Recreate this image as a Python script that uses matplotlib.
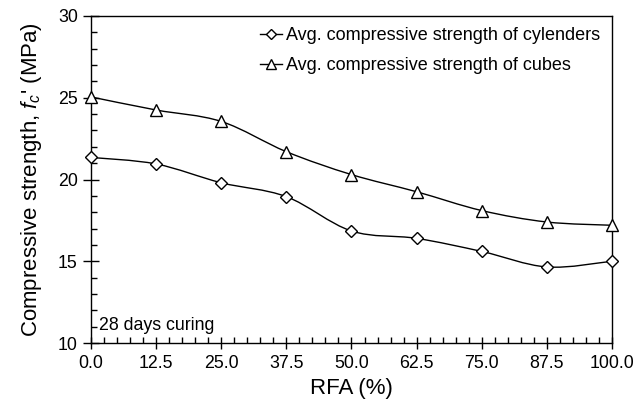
import numpy as np
import matplotlib
matplotlib.use("Agg")
from matplotlib import pyplot as plt
from matplotlib.path import Path
from matplotlib.patches import PathPatch
from matplotlib.ticker import MultipleLocator, FormatStrFormatter

plt.rcParams['font.family'] = ['Liberation Sans', 'DejaVu Sans']
plt.rcParams['mathtext.fontset'] = 'custom'
plt.rcParams['mathtext.rm'] = 'Liberation Sans'
plt.rcParams['mathtext.it'] = 'Liberation Sans:italic'

# data
rfa = [0.0, 12.5, 25.0, 37.5, 50.0, 62.5, 75.0, 87.5, 100.0]
cylinders = [21.35, 20.95, 19.8, 18.95, 16.85, 16.4, 15.6, 14.65, 15.0]
cubes = [25.05, 24.25, 23.55, 21.7, 20.3, 19.25, 18.1, 17.4, 17.2]
xticks = [0.0, 12.5, 25.0, 37.5, 50.0, 62.5, 75.0, 87.5, 100.0]


def smooth_path(x, y):
    # excel-like smoothed line: bezier segments through every point
    x = np.asarray(x, float)
    y = np.asarray(y, float)
    verts = [(x[0], y[0])]
    codes = [Path.MOVETO]
    n = len(x)
    for i in range(n - 1):
        x0, y0 = (x[i - 1], y[i - 1]) if i > 0 else (x[i], y[i])
        x3, y3 = (x[i + 2], y[i + 2]) if i + 2 < n else (x[i + 1], y[i + 1])
        t = 1 / 6.0
        c1 = (x[i] + (x[i + 1] - x0) * t, y[i] + (y[i + 1] - y0) * t)
        c2 = (x[i + 1] - (x3 - x[i]) * t, y[i + 1] - (y3 - y[i]) * t)
        verts += [c1, c2, (x[i + 1], y[i + 1])]
        codes += [Path.CURVE4] * 3
    return Path(verts, codes)


fig = plt.figure(figsize=(6.44, 4.03), dpi=100)
ax = fig.add_axes([91 / 644, 60 / 403, 521 / 644, 327 / 403])

series = [(cylinders, 'D', 6.3, 4.8, 'Avg. compressive strength of cylenders'),
          (cubes, '^', 8.5, 6.5, 'Avg. compressive strength of cubes')]
for ys, mk, ms, lms, lab in series:
    ax.add_patch(PathPatch(smooth_path(rfa, ys), fill=False, ec='black', lw=1.0, zorder=2))
    ax.plot(rfa, ys, linestyle='none', marker=mk, ms=ms, mfc='white', mec='black', mew=1.0,
            zorder=3, clip_on=False)
    ax.plot([], [], color='black', lw=1.0, marker=mk, ms=lms, mfc='white', mec='black',
            mew=1.0, label=lab)

ax.set_xlim(0, 100)
ax.set_ylim(10, 30)
ax.set_xticks(xticks)
ax.xaxis.set_major_formatter(FormatStrFormatter('%.1f'))
ax.xaxis.set_minor_locator(MultipleLocator(2.5))
ax.yaxis.set_major_locator(MultipleLocator(5))
ax.yaxis.set_minor_locator(MultipleLocator(1))
ax.tick_params(axis='y', which='major', direction='inout', length=11, width=1.0, labelsize=12.8, pad=4)
ax.tick_params(axis='x', which='major', direction='inout', length=8, width=1.0, labelsize=12.8, pad=5)
ax.tick_params(which='minor', direction='in', length=4, width=1.0)
for s in ax.spines.values():
    s.set_linewidth(1.0)

ax.set_xlabel('RFA (%)', fontsize=16, labelpad=4)
ax.set_ylabel("Compressive strength, $f_c$' (MPa)", fontsize=16, labelpad=10)

ax.text(1.5, 11.1, '28 days curing', fontsize=12.8, va='center', ha='left')

ax.legend(loc='upper left', bbox_to_anchor=(0.324, 0.965), frameon=False, fontsize=13,
          handlelength=1.25, handletextpad=0.2, labelspacing=0.7, borderpad=0,
          borderaxespad=0)

fig.savefig('out.png', dpi=100)
